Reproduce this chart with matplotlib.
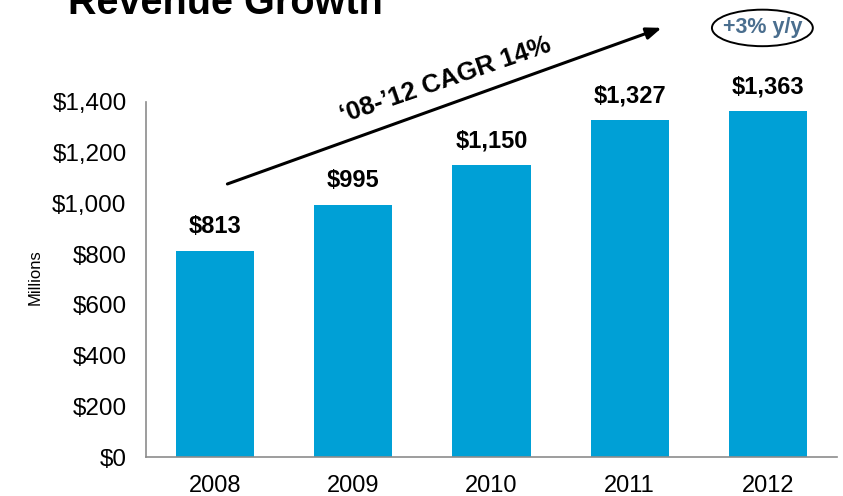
import matplotlib
matplotlib.use("Agg")
import matplotlib.pyplot as plt
from matplotlib.patches import Ellipse

plt.rcParams["font.family"] = "Liberation Sans"

years = ["2008", "2009", "2010", "2011", "2012"]
revenue = [813, 995, 1150, 1327, 1363]
ytick_vals = [0, 200, 400, 600, 800, 1000, 1200, 1400]
bar_color = "#00A0D6"

fig = plt.figure(figsize=(8.43, 4.96), dpi=100)
ax = fig.add_axes([0.1732, 0.0786, 0.8197, 0.7158])

x = range(len(years))
ax.bar(x, revenue, width=0.565, color=bar_color)
for i, v in zip(x, revenue):
    ax.annotate(f"${v:,}", (i, v), xytext=(0, 9), textcoords="offset points",
                ha="center", va="bottom", fontsize=17, fontweight="bold")

ax.set_xlim(-0.5, len(years) - 0.5)
ax.set_ylim(0, 1400)
ax.set_xticks(list(x))
ax.set_xticklabels(years, fontsize=17)
ax.set_yticks(ytick_vals)
ax.set_yticklabels([f"${v:,}" for v in ytick_vals], fontsize=17.5)
ax.tick_params(length=0)
ax.tick_params(axis="y", pad=14)
ax.tick_params(axis="x", pad=13)
for s in ["top", "right"]:
    ax.spines[s].set_visible(False)
for s in ["left", "bottom"]:
    ax.spines[s].set_color("#8c8c8c")
    ax.spines[s].set_linewidth(1.2)
ax.set_ylabel("Millions", fontsize=12)
ax.yaxis.set_label_coords(-0.150, 0.507)

# growth arrow with CAGR label
ax.annotate("", xy=(3.25, 1696), xytext=(0.07, 1073),
            arrowprops=dict(arrowstyle="-|>,head_length=0.9,head_width=0.35",
                            color="black", lw=2.2),
            annotation_clip=False)
ax.text(1.67, 1485, "\u201808-\u201912 CAGR 14%", rotation=19,
        ha="center", va="center", fontsize=18.5, fontweight="bold",
        rotation_mode="anchor")

# year-over-year badge
ax.add_patch(Ellipse((3.96, 1692), 0.73, 144, fill=False, edgecolor="black",
                     lw=1.4, clip_on=False))
ax.text(3.96, 1692, "+3% y/y", ha="center", va="center", fontsize=15.5,
        fontweight="bold", color="#4A6E8E")

fig.text(68 / 843, 1 - 14 / 496, "Revenue Growth", ha="left", va="baseline",
         fontsize=28.5, fontweight="bold")

fig.savefig("out.png", dpi=100)
